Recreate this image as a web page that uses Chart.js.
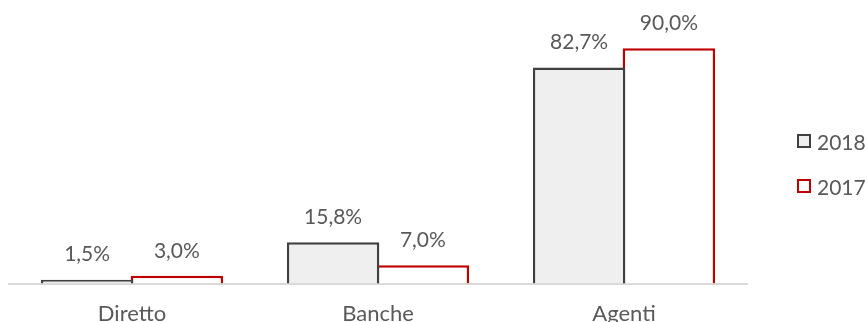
<!DOCTYPE html>
<html>
<head>
<meta charset="utf-8">
<script src="https://cdn.jsdelivr.net/npm/chart.js@4.4.1/dist/chart.umd.min.js"></script>
<style>
  html, body { margin: 0; padding: 0; background: #fff; overflow: hidden; }
  #wrap { position: relative; width: 867px; height: 344px; }
  #legend { position: absolute; left: 797px; top: 127px; font-family: Lato, sans-serif; font-size: 21px; color: #595959; }
  .item { display: flex; align-items: center; height: 28px; margin-bottom: 17px; white-space: nowrap; }
  .box { width: 10px; height: 10px; margin-right: 6px; border: 2.5px solid; }
</style>
</head>
<body>
<div id="wrap">
  <canvas id="quoteChart" width="867" height="344"></canvas>
  <div id="legend"></div>
</div>
<script>
// Canali di distribuzione, quota %
const categories = ['Diretto', 'Banche', 'Agenti'];
const values2018 = [1.5, 15.8, 82.7];
const values2017 = [3.0, 7.0, 90.0];

const seriesStyle = [
  { label: '2018', data: values2018, fill: '#efefef', stroke: '#404040' },
  { label: '2017', data: values2017, fill: '#ffffff', stroke: '#c00000' }
];

const fmt = v => v.toFixed(1).replace('.', ',') + '%';

// Etichette con il valore sopra ogni barra
const valueLabels = {
  id: 'valueLabels',
  afterDatasetsDraw(chart) {
    const c = chart.ctx;
    c.save();
    c.font = '21px Lato, sans-serif';
    c.fillStyle = '#595959';
    c.textAlign = 'center';
    c.textBaseline = 'middle';
    chart.data.datasets.forEach((ds, i) => {
      chart.getDatasetMeta(i).data.forEach((bar, j) => {
        c.fillText(fmt(ds.data[j]), bar.x, bar.y - 25);
      });
    });
    c.restore();
  }
};

const ctx = document.getElementById('quoteChart').getContext('2d');
const quoteChart = new Chart(ctx, {
  type: 'bar',
  data: {
    labels: categories,
    datasets: seriesStyle.map(s => ({
      label: s.label,
      data: s.data,
      backgroundColor: s.fill,
      borderColor: s.stroke,
      borderWidth: 2.5,
      borderSkipped: 'bottom',
      categoryPercentage: 0.73,
      barPercentage: 1.03
    }))
  },
  options: {
    responsive: false,
    animation: false,
    layout: { padding: { left: 9, right: 120, top: 0, bottom: 0 } },
    plugins: {
      legend: { display: false },
      tooltip: { enabled: false }
    },
    scales: {
      x: {
        grid: { display: false, drawTicks: false },
        border: { display: true, color: '#d9d9d9', width: 2 },
        ticks: {
          color: '#595959',
          font: { family: 'Lato, sans-serif', size: 22 },
          padding: 17
        }
      },
      y: {
        display: false,
        min: 0,
        max: 108.5
      }
    }
  },
  plugins: [valueLabels]
});

// Legenda a destra
const legend = document.getElementById('legend');
seriesStyle.forEach(s => {
  const item = document.createElement('div');
  item.className = 'item';
  item.innerHTML = `<span class="box" style="border-color:${s.stroke};background:${s.fill}"></span>${s.label}`;
  legend.appendChild(item);
});
</script>
</body>
</html>
